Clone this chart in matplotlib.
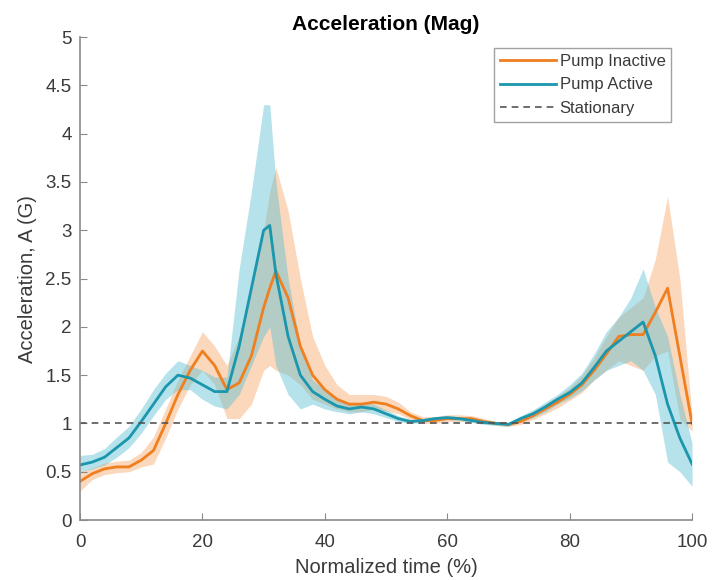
import matplotlib
matplotlib.use("Agg")
import matplotlib.pyplot as plt
import numpy as np

# normalized time (%)
t = [0, 2, 4, 6, 8, 10, 12, 14, 16, 18, 20, 22, 24, 26, 28, 30, 31, 32, 34, 36, 38, 40,
     42, 44, 46, 48, 50, 52, 54, 56, 58, 60, 62, 64, 66, 68, 70, 72, 74, 76, 78, 80,
     82, 84, 86, 88, 90, 92, 94, 96, 98, 100]

# pump inactive: mean and band
inactive = [0.40, 0.48, 0.53, 0.55, 0.55, 0.62, 0.72, 1.00, 1.30, 1.55, 1.75, 1.60, 1.35, 1.42, 1.70, 2.20, 2.40, 2.58, 2.30, 1.80, 1.50, 1.35,
            1.25, 1.20, 1.20, 1.22, 1.20, 1.15, 1.08, 1.03, 1.03, 1.05, 1.05, 1.05, 1.02, 1.00, 0.99, 1.02, 1.08, 1.15, 1.22, 1.30,
            1.40, 1.55, 1.72, 1.90, 1.92, 1.92, 2.15, 2.40, 1.70, 1.00]
inactive_lo = [0.30, 0.42, 0.47, 0.49, 0.50, 0.55, 0.58, 0.85, 1.15, 1.40, 1.55, 1.40, 1.05, 1.05, 1.20, 1.55, 1.60, 1.55, 1.50, 1.40, 1.25, 1.20,
               1.15, 1.12, 1.12, 1.15, 1.13, 1.10, 1.04, 1.00, 1.00, 1.02, 1.02, 1.02, 1.00, 0.98, 0.97, 0.99, 1.04, 1.10, 1.16, 1.24,
               1.32, 1.45, 1.55, 1.65, 1.60, 1.55, 1.70, 1.75, 1.05, 0.92]
inactive_hi = [0.50, 0.54, 0.59, 0.61, 0.62, 0.70, 0.86, 1.15, 1.45, 1.70, 1.95, 1.80, 1.60, 1.90, 2.40, 3.00, 3.40, 3.65, 3.20, 2.50, 1.90, 1.60,
               1.40, 1.30, 1.30, 1.30, 1.28, 1.22, 1.12, 1.07, 1.07, 1.09, 1.09, 1.08, 1.05, 1.02, 1.01, 1.06, 1.12, 1.20, 1.28, 1.37,
               1.50, 1.68, 1.90, 2.10, 2.20, 2.30, 2.70, 3.35, 2.50, 1.08]

# pump active: mean and band
active = [0.57, 0.60, 0.65, 0.75, 0.85, 1.02, 1.20, 1.38, 1.50, 1.47, 1.40, 1.33, 1.33, 1.80, 2.40, 3.00, 3.05, 2.55, 1.90, 1.50, 1.33, 1.25,
          1.18, 1.15, 1.17, 1.15, 1.10, 1.05, 1.02, 1.03, 1.05, 1.06, 1.05, 1.03, 1.01, 1.00, 0.99, 1.05, 1.10, 1.17, 1.25, 1.32,
          1.42, 1.58, 1.75, 1.85, 1.95, 2.05, 1.70, 1.20, 0.85, 0.58]
active_lo = [0.50, 0.53, 0.57, 0.65, 0.75, 0.90, 1.08, 1.25, 1.35, 1.35, 1.25, 1.18, 1.15, 1.30, 1.60, 1.90, 2.00, 1.60, 1.30, 1.15, 1.20, 1.15,
             1.12, 1.10, 1.12, 1.10, 1.06, 1.02, 1.00, 1.01, 1.03, 1.04, 1.03, 1.01, 0.99, 0.98, 0.97, 1.02, 1.06, 1.12, 1.20, 1.26,
             1.34, 1.45, 1.55, 1.60, 1.65, 1.55, 1.30, 0.60, 0.50, 0.35]
active_hi = [0.67, 0.68, 0.74, 0.86, 0.97, 1.15, 1.35, 1.52, 1.65, 1.60, 1.55, 1.48, 1.48, 2.60, 3.40, 4.30, 4.30, 3.50, 2.50, 1.80, 1.45, 1.35,
             1.25, 1.20, 1.22, 1.20, 1.14, 1.08, 1.04, 1.05, 1.07, 1.08, 1.07, 1.05, 1.03, 1.02, 1.01, 1.08, 1.14, 1.22, 1.30, 1.40,
             1.52, 1.72, 1.95, 2.10, 2.30, 2.60, 2.20, 1.90, 1.30, 0.80]

stationary = 1.0

orange = "#ef7f1f"
blue = "#1a96ad"
gray = "#8a8a8a"
txt = "#3a3a3a"

plt.rcParams["font.family"] = ["Liberation Sans", "DejaVu Sans"]

fig = plt.figure(figsize=(7.12, 5.8), dpi=100)
ax = fig.add_axes([0.1124, 0.1034, 0.8596, 0.8326])

ax.fill_between(t, inactive_lo, inactive_hi, color="#f9b07a", alpha=0.5, linewidth=0)
ax.fill_between(t, active_lo, active_hi, color="#5cc0d4", alpha=0.45, linewidth=0)
ax.plot(t, inactive, color=orange, lw=2, label="Pump Inactive")
ax.plot(t, active, color=blue, lw=2, label="Pump Active")
ax.axhline(stationary, color="#555555", lw=1.2, ls=(0, (4, 3)), label="Stationary")

ax.set_xlim(0, 100)
ax.set_ylim(0, 5)
ax.set_xticks([0, 20, 40, 60, 80, 100])
ax.set_yticks([0, 0.5, 1, 1.5, 2, 2.5, 3, 3.5, 4, 4.5, 5])
ax.set_yticklabels(["0", "0.5", "1", "1.5", "2", "2.5", "3", "3.5", "4", "4.5", "5"])

for s in ["top", "right"]:
    ax.spines[s].set_visible(False)
for s in ["left", "bottom"]:
    ax.spines[s].set_color(gray)
    ax.spines[s].set_linewidth(1.2)
ax.tick_params(direction="in", colors=txt, labelsize=13.5, length=5, color=gray)
ax.tick_params(axis="x", pad=10)
ax.tick_params(axis="y", pad=6)

ax.set_xlabel("Normalized time (%)", fontsize=14.5, color=txt, labelpad=5)
ax.set_ylabel("Acceleration, A (G)", fontsize=14.5, color=txt, labelpad=6)
ax.set_title("Acceleration (Mag)", fontsize=15, fontweight="bold", pad=5)

leg = ax.legend(loc="upper left", bbox_to_anchor=(0.676, 0.977), fontsize=12, frameon=True,
                fancybox=False, edgecolor=gray, handlelength=3.4, borderpad=0.35,
                labelspacing=0.5, handletextpad=0.2, borderaxespad=0)
leg.get_frame().set_linewidth(1.0)
for tx in leg.get_texts():
    tx.set_color(txt)

fig.savefig("out.png", dpi=100)
